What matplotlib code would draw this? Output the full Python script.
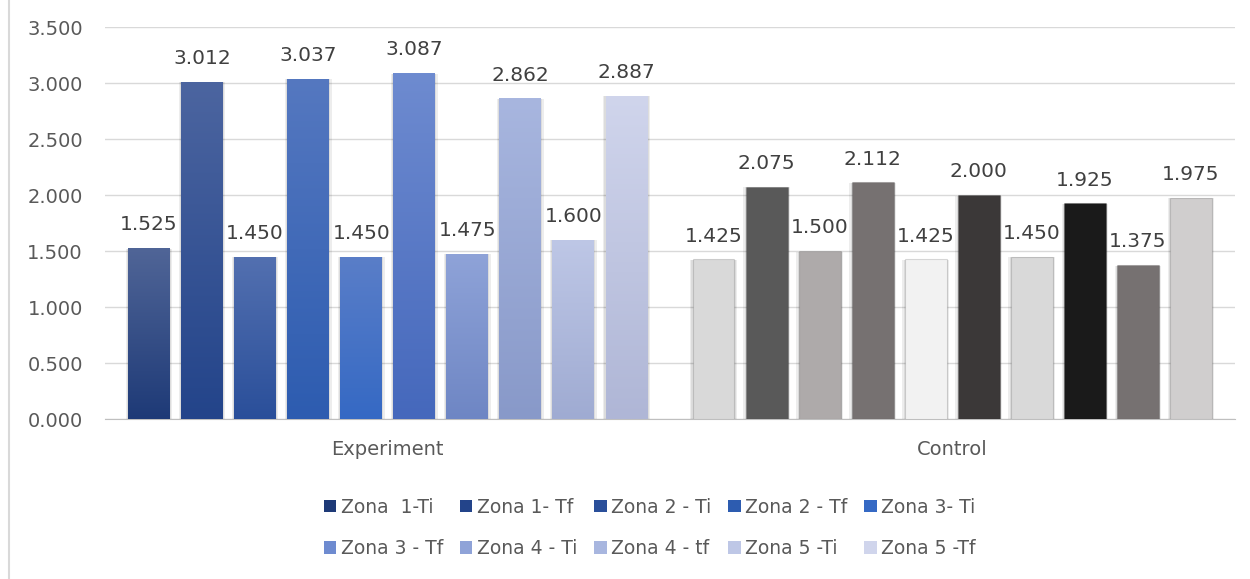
import numpy as np
import matplotlib.pyplot as plt
from matplotlib.colors import LinearSegmentedColormap
from matplotlib.lines import Line2D
from matplotlib.patches import Patch

groups = ['Experiment', 'Control']
zones = ['Zona  1-Ti', 'Zona 1- Tf', 'Zona 2 - Ti', 'Zona 2 - Tf', 'Zona 3- Ti',
         'Zona 3 - Tf', 'Zona 4 - Ti', 'Zona 4 - tf', 'Zona 5 -Ti', 'Zona 5 -Tf']
experiment = [1.525, 3.012, 1.450, 3.037, 1.450, 3.087, 1.475, 2.862, 1.600, 2.887]
control = [1.425, 2.075, 1.500, 2.112, 1.425, 2.000, 1.450, 1.925, 1.375, 1.975]
yticks = [0.0, 0.5, 1.0, 1.5, 2.0, 2.5, 3.0, 3.5]

# gradient colours (top, bottom) for the experiment bars
exp_top = ['#506597', '#4c65a0', '#5370b0', '#5578c0', '#5a7ec8',
           '#6e8bd0', '#8fa3d8', '#a8b6df', '#bec7e6', '#d0d5ec']
exp_bot = ['#1e3a77', '#23448a', '#2a4f9a', '#2d5cb0', '#3569c4',
           '#4568bc', '#6e86c4', '#8899c9', '#9fabd2', '#afb6d6']
ctl_col = ['#d9d9d9', '#595959', '#aeaaaa', '#767171', '#f2f2f2',
           '#3b3838', '#d9d9d9', '#1a1a1a', '#767171', '#d0cece']

txt = '#595959'
plt.rcParams['font.family'] = ['DejaVu Sans']

fig = plt.figure(figsize=(12.5, 5.79), dpi=100)
ax = fig.add_axes([0.084, 0.2763, 0.904, 0.677])

step = 10.64
n = len(zones)
offs = np.arange(n) - (n - 1) / 2
w = 0.79

for g, vals in enumerate([experiment, control]):
    xs = g * step + offs
    # soft shadow
    ax.bar(xs, np.array(vals) + 0.01, width=w + 0.09, bottom=-0.015,
           color='#000000', alpha=0.07, zorder=2)
    ax.bar(xs, np.array(vals) + 0.005, width=w + 0.04, bottom=-0.01,
           color='#000000', alpha=0.07, zorder=2)
    bars = ax.bar(xs, vals, width=w, zorder=3,
                  color=ctl_col if g == 1 else 'none',
                  edgecolor='#00000022' if g == 1 else 'none', linewidth=0.8)
    for i, (b, v) in enumerate(zip(bars, vals)):
        if g == 0:
            cmap = LinearSegmentedColormap.from_list('g', [exp_bot[i], exp_top[i]])
            grad = np.linspace(0, 1, 256).reshape(-1, 1)
            x0, y0 = b.get_x(), b.get_y()
            im = ax.imshow(grad, cmap=cmap, origin='lower', aspect='auto',
                           extent=[x0, x0 + b.get_width(), y0, y0 + b.get_height()],
                           zorder=3)
            im.set_clip_path(b)
        ax.annotate(f'{v:.3f}', (b.get_x() + b.get_width() / 2, v),
                    xytext=(0, 10), textcoords='offset points',
                    ha='center', va='bottom', fontsize=14.5, color='#404040')

ax.set_xlim(-5.33, step + 5.33)
ax.set_ylim(0, 3.5)
ax.set_yticks(yticks)
ax.set_yticklabels([f'{t:.3f}' for t in yticks])
ax.set_xticks([0, step])
ax.set_xticklabels(groups)
ax.tick_params(length=0, labelsize=14, labelcolor=txt)
ax.tick_params(axis='y', pad=16)
ax.tick_params(axis='x', pad=15)
ax.grid(axis='y', color='#d9d9d9', lw=1, zorder=0)
ax.set_axisbelow(True)
for s in ['top', 'right', 'left']:
    ax.spines[s].set_visible(False)
ax.spines['bottom'].set_color('#bfbfbf')
ax.spines['bottom'].set_zorder(1)

# legend in row order
handles = [Patch(facecolor=exp_bot[i] if i < 5 else exp_top[i]) for i in range(n)]
order = [0, 5, 1, 6, 2, 7, 3, 8, 4, 9]
leg = fig.legend([handles[i] for i in order], [zones[i] for i in order],
                 ncol=5, loc='center', bbox_to_anchor=(0.52, 0.088), frameon=False,
                 fontsize=13.5, handlelength=0.65, handleheight=0.65,
                 handletextpad=0.25, columnspacing=0.9, labelspacing=1.2)
for t in leg.get_texts():
    t.set_color(txt)

fig.add_artist(Line2D([9 / 1250, 9 / 1250], [0, 1], color='#d9d9d9', lw=1.5,
                      transform=fig.transFigure))

fig.savefig('out.png', dpi=100)
